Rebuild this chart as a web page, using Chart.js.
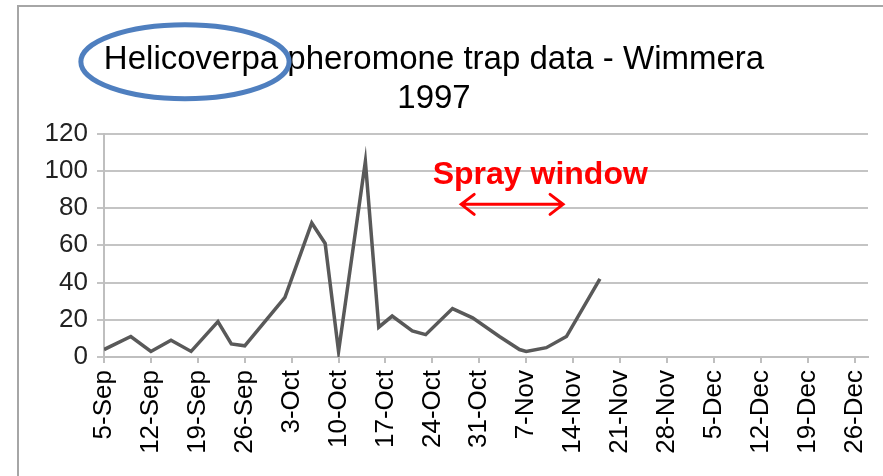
<!DOCTYPE html>
<html>
<head>
<meta charset="utf-8">
<script src="https://cdn.jsdelivr.net/npm/chart.js@4"></script>
<style>
  html, body { margin: 0; padding: 0; background: #fff; }
  #wrap { width: 883px; height: 476px; }
</style>
</head>
<body>
<div id="wrap"><canvas id="chart" width="883" height="476"></canvas></div>
<script>
// Trap data - days after 5-Sep-1997 and moth counts
const trapDays = [0, 4, 7, 10, 13, 17, 19, 21, 27, 31, 33, 35, 39, 41, 43, 46, 48, 52, 55, 59, 62, 63, 66, 69, 74];
const trapCounts = [4, 11, 3, 9, 3, 19, 7, 6, 32, 72, 61, 3, 105, 16, 22, 14, 12, 26, 21, 11, 4, 3, 5, 11, 42];

// weekly axis labels
const tickLabels = ['5-Sep', '12-Sep', '19-Sep', '26-Sep', '3-Oct', '10-Oct', '17-Oct', '24-Oct', '31-Oct',
  '7-Nov', '14-Nov', '21-Nov', '28-Nov', '5-Dec', '12-Dec', '19-Dec', '26-Dec'];

const titleLines = ['Helicoverpa pheromone trap data - Wimmera', '1997'];
const sprayLabel = 'Spray window';
const sprayFrom = 53.3, sprayTo = 68.5, sprayLevel = 82; // arrow span in axis units
const sprayTextAt = [65.1, 97.5];

const FONT = "'Liberation Sans', Arial, sans-serif";

// extra drawing: frame, circled word, spray window arrow
const extras = {
  id: 'extras',
  beforeDraw(chart) {
    const ctx = chart.ctx;
    ctx.save();
    ctx.fillStyle = '#fff';
    ctx.fillRect(0, 0, chart.width, chart.height);
    ctx.strokeStyle = '#a6a6a6';
    ctx.lineWidth = 2;
    ctx.beginPath();
    ctx.moveTo(18, chart.height);
    ctx.lineTo(18, 6);
    ctx.lineTo(chart.width, 6);
    ctx.stroke();
    ctx.restore();
  },
  afterDraw(chart) {
    const ctx = chart.ctx;
    const x = chart.scales.x, y = chart.scales.y;
    const t = chart.options.plugins.title;
    ctx.save();

    // ellipse round the first word of the title
    ctx.font = `${t.font.size}px ${FONT}`;
    const fullW = ctx.measureText(titleLines[0]).width;
    const wordW = ctx.measureText('Helicoverpa').width;
    const tb = chart.titleBlock;
    const cx = (tb.left + tb.right) / 2 - fullW / 2 + wordW / 2;
    const cy = tb.top + t.padding.top + t.font.size * 1.2 / 2;
    ctx.strokeStyle = '#4f7fbf';
    ctx.lineWidth = 5;
    ctx.beginPath();
    ctx.ellipse(cx - 6, cy + 1, wordW / 2 + 17, 37, 0, 0, Math.PI * 2);
    ctx.stroke();

    // spray window label and arrow
    ctx.fillStyle = '#ff0000';
    ctx.font = `bold 32px ${FONT}`;
    ctx.textAlign = 'center';
    ctx.textBaseline = 'middle';
    ctx.fillText(sprayLabel, x.getPixelForValue(sprayTextAt[0]), y.getPixelForValue(sprayTextAt[1]));

    const x1 = x.getPixelForValue(sprayFrom), x2 = x.getPixelForValue(sprayTo);
    const ay = y.getPixelForValue(sprayLevel);
    ctx.strokeStyle = '#ff0000';
    ctx.lineWidth = 3;
    ctx.lineCap = 'round';
    ctx.beginPath();
    ctx.moveTo(x1, ay); ctx.lineTo(x2, ay);
    ctx.moveTo(x1 + 13, ay - 10); ctx.lineTo(x1, ay); ctx.lineTo(x1 + 13, ay + 10);
    ctx.moveTo(x2 - 13, ay - 10); ctx.lineTo(x2, ay); ctx.lineTo(x2 - 13, ay + 10);
    ctx.stroke();
    ctx.restore();
  }
};

new Chart(document.getElementById('chart'), {
  type: 'line',
  data: {
    datasets: [{
      data: trapDays.map((d, i) => ({ x: d, y: trapCounts[i] })),
      borderColor: '#595959',
      borderWidth: 3.5,
      pointRadius: 0,
      tension: 0,
      fill: false
    }]
  },
  options: {
    responsive: false,
    animation: false,
    layout: { padding: { left: 0, right: 15, top: 0, bottom: 0 } },
    plugins: {
      legend: { display: false },
      tooltip: { enabled: false },
      title: {
        display: true,
        text: titleLines,
        color: '#000',
        font: { family: FONT, size: 33, weight: 'normal', lineHeight: 1.16 },
        padding: { top: 41, bottom: 16 }
      }
    },
    scales: {
      x: {
        type: 'linear',
        min: 0,
        max: 114,
        afterFit(s) { s.height = 119; s.paddingLeft = 0; s.paddingRight = 0; },
        grid: { drawOnChartArea: false, drawTicks: true, tickLength: 6, color: '#bfbfbf', lineWidth: 2 },
        border: { display: true, color: '#bfbfbf', width: 2 },
        ticks: {
          stepSize: 7,
          includeBounds: false,
          autoSkip: false,
          minRotation: 90,
          maxRotation: 90,
          padding: 7,
          color: '#000',
          font: { family: FONT, size: 26 },
          callback: (v) => tickLabels[v / 7]
        }
      },
      y: {
        min: 0,
        max: 120,
        afterFit(s) { s.width = 104; },
        grid: { color: '#c4c4c4', lineWidth: 2, tickLength: 7 },
        border: { display: true, color: '#bfbfbf', width: 2 },
        ticks: {
          stepSize: 20,
          padding: 9,
          color: '#222',
          font: { family: FONT, size: 26 }
        }
      }
    }
  },
  plugins: [extras]
});
</script>
</body>
</html>
